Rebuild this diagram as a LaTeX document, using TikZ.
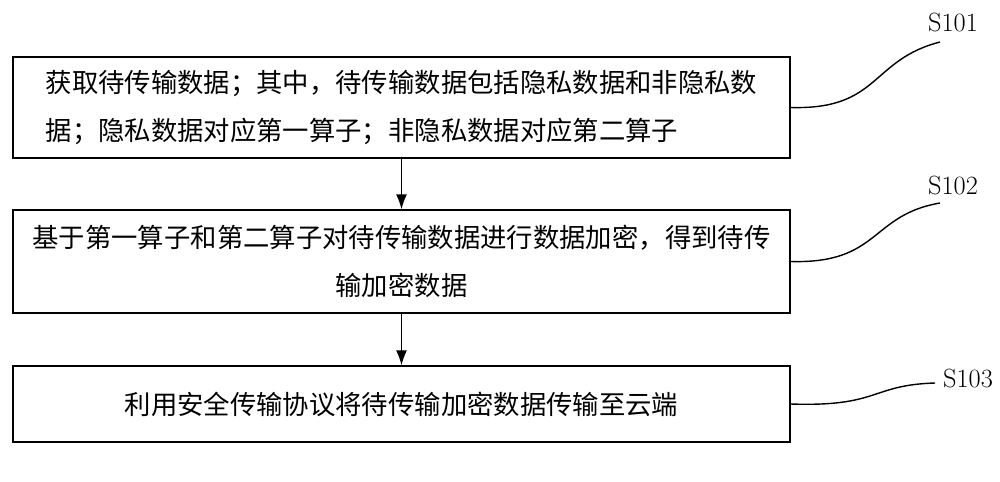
\documentclass[tikz,border=0pt]{standalone}
\usepackage{fontspec}
\usetikzlibrary{arrows.meta}
\newfontfamily\cjk{Noto Sans CJK SC}
\begin{document}
\begin{tikzpicture}[x=0.02cm,y=-0.02cm,
    stepbox/.style={draw,thick,minimum width=15.54cm,font=\cjk\fontsize{15pt}{27pt}\selectfont},
    wave/.style={thick}]
    \useasboundingbox (0,0) rectangle (1000,481);
    % Steps
    \node[stepbox,minimum height=2.02cm,align=left] (s1) at (401.5,107.5)
        {获取待传输数据；其中，待传输数据包括隐私数据和非隐私数\\据；隐私数据对应第一算子；非隐私数据对应第二算子};
    \node[stepbox,minimum height=2.06cm,align=center] (s2) at (401.5,261.5)
        {基于第一算子和第二算子对待传输数据进行数据加密，得到待传\\输加密数据};
    \node[stepbox,minimum height=1.52cm] (s3) at (401.5,404)
        {利用安全传输协议将待传输加密数据传输至云端};
    % Arrows
    \draw[thick,-{Latex[length=3mm,width=2.2mm]}] (s1) -- (s2);
    \draw[thick,-{Latex[length=3mm,width=2.2mm]}] (s2) -- (s3);
    % Labels
    \node[font=\fontsize{15pt}{18pt}\selectfont] (l1) at (953,22) {S101};
    \node[font=\fontsize{15pt}{18pt}\selectfont] (l2) at (953,185) {S102};
    \node[font=\fontsize{15pt}{18pt}\selectfont] (l3) at (968,378) {S103};
    \draw[wave] (s1.east) .. controls (880,110) and (870,60) .. (940,42);
    \draw[wave] (s2.east) .. controls (880,264) and (870,215) .. (940,203);
    \draw[wave] (s3.east) .. controls (880,407) and (870,385) .. (935,383);
\end{tikzpicture}
\end{document}
